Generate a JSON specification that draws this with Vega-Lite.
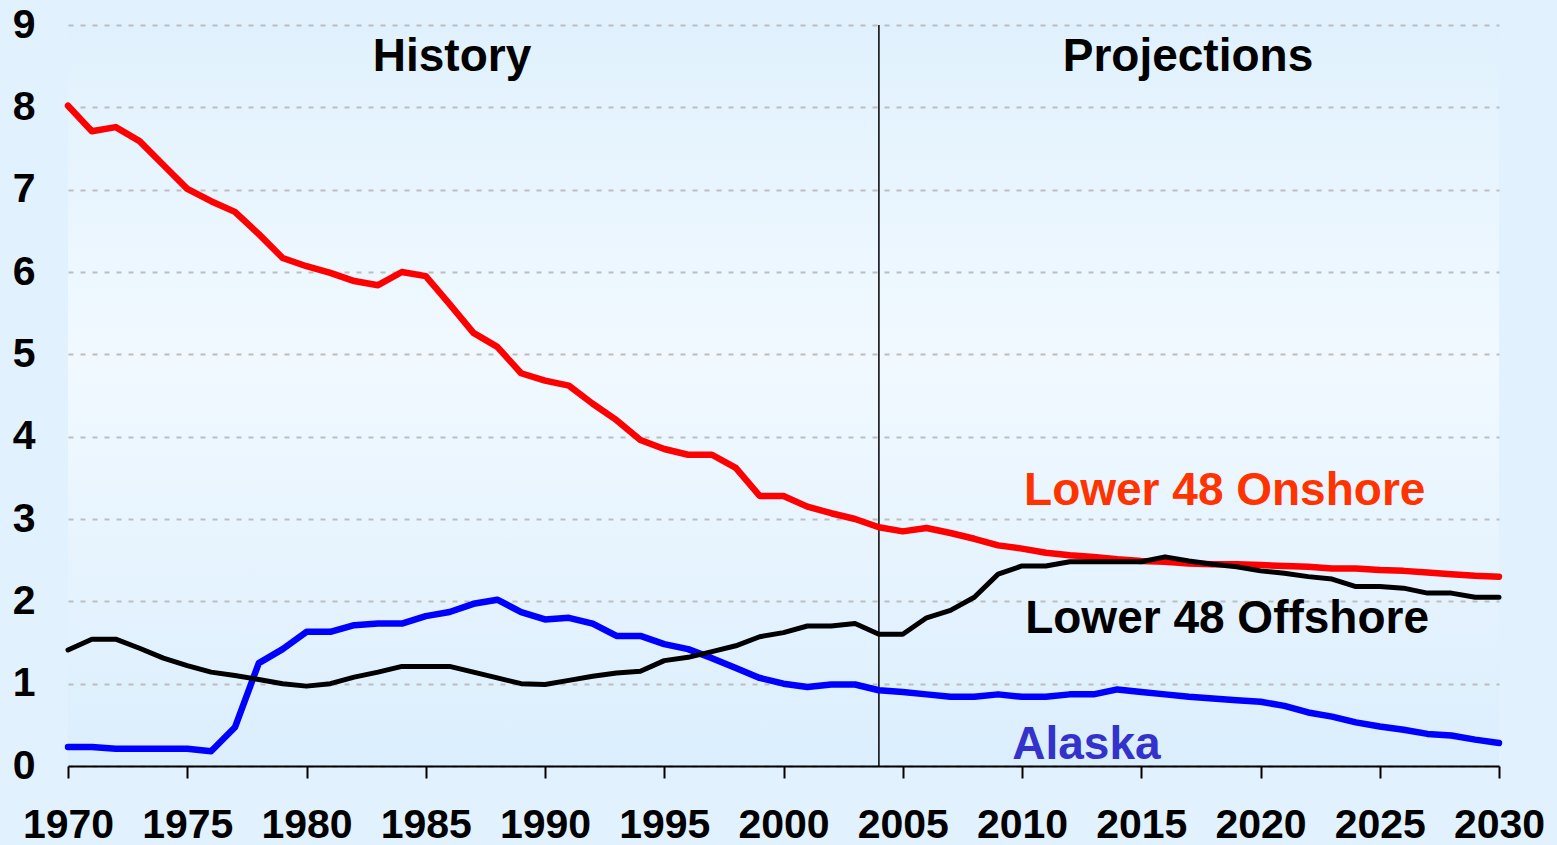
{
  "$schema": "https://vega.github.io/schema/vega-lite/v6.json",
  "width": 1431,
  "height": 741,
  "autosize": {"type": "none"},
  "padding": {"left": 68, "top": 25, "right": 58, "bottom": 79},
  "background": "#e1f1fd",
  "config": {
    "view": {"stroke": null, "fill": {"gradient": "linear", "x1": 0, "y1": 0, "x2": 0, "y2": 1, "stops": [{"offset": 0, "color": "#e0f1fd"}, {"offset": 0.45, "color": "#f1f9ff"}, {"offset": 1, "color": "#dbeefd"}]}},
    "font": "Liberation Sans"
  },
  "datasets": {
    "prod": [
      {"year": 1970, "series": "Lower 48 Onshore", "value": 8.02},
      {"year": 1971, "series": "Lower 48 Onshore", "value": 7.71},
      {"year": 1972, "series": "Lower 48 Onshore", "value": 7.76},
      {"year": 1973, "series": "Lower 48 Onshore", "value": 7.59},
      {"year": 1974, "series": "Lower 48 Onshore", "value": 7.3},
      {"year": 1975, "series": "Lower 48 Onshore", "value": 7.01},
      {"year": 1976, "series": "Lower 48 Onshore", "value": 6.86},
      {"year": 1977, "series": "Lower 48 Onshore", "value": 6.73},
      {"year": 1978, "series": "Lower 48 Onshore", "value": 6.46},
      {"year": 1979, "series": "Lower 48 Onshore", "value": 6.17},
      {"year": 1980, "series": "Lower 48 Onshore", "value": 6.07},
      {"year": 1981, "series": "Lower 48 Onshore", "value": 5.99},
      {"year": 1982, "series": "Lower 48 Onshore", "value": 5.89},
      {"year": 1983, "series": "Lower 48 Onshore", "value": 5.84},
      {"year": 1984, "series": "Lower 48 Onshore", "value": 6.0},
      {"year": 1985, "series": "Lower 48 Onshore", "value": 5.95},
      {"year": 1986, "series": "Lower 48 Onshore", "value": 5.61},
      {"year": 1987, "series": "Lower 48 Onshore", "value": 5.26},
      {"year": 1988, "series": "Lower 48 Onshore", "value": 5.09},
      {"year": 1989, "series": "Lower 48 Onshore", "value": 4.77},
      {"year": 1990, "series": "Lower 48 Onshore", "value": 4.68},
      {"year": 1991, "series": "Lower 48 Onshore", "value": 4.62},
      {"year": 1992, "series": "Lower 48 Onshore", "value": 4.4},
      {"year": 1993, "series": "Lower 48 Onshore", "value": 4.2},
      {"year": 1994, "series": "Lower 48 Onshore", "value": 3.96},
      {"year": 1995, "series": "Lower 48 Onshore", "value": 3.85},
      {"year": 1996, "series": "Lower 48 Onshore", "value": 3.78},
      {"year": 1997, "series": "Lower 48 Onshore", "value": 3.78},
      {"year": 1998, "series": "Lower 48 Onshore", "value": 3.62},
      {"year": 1999, "series": "Lower 48 Onshore", "value": 3.28},
      {"year": 2000, "series": "Lower 48 Onshore", "value": 3.28},
      {"year": 2001, "series": "Lower 48 Onshore", "value": 3.15},
      {"year": 2002, "series": "Lower 48 Onshore", "value": 3.07},
      {"year": 2003, "series": "Lower 48 Onshore", "value": 3.0},
      {"year": 2004, "series": "Lower 48 Onshore", "value": 2.9},
      {"year": 2005, "series": "Lower 48 Onshore", "value": 2.85},
      {"year": 2006, "series": "Lower 48 Onshore", "value": 2.89},
      {"year": 2007, "series": "Lower 48 Onshore", "value": 2.83},
      {"year": 2008, "series": "Lower 48 Onshore", "value": 2.76},
      {"year": 2009, "series": "Lower 48 Onshore", "value": 2.68},
      {"year": 2010, "series": "Lower 48 Onshore", "value": 2.64},
      {"year": 2011, "series": "Lower 48 Onshore", "value": 2.59},
      {"year": 2012, "series": "Lower 48 Onshore", "value": 2.56},
      {"year": 2013, "series": "Lower 48 Onshore", "value": 2.54},
      {"year": 2014, "series": "Lower 48 Onshore", "value": 2.51},
      {"year": 2015, "series": "Lower 48 Onshore", "value": 2.49},
      {"year": 2016, "series": "Lower 48 Onshore", "value": 2.48},
      {"year": 2017, "series": "Lower 48 Onshore", "value": 2.46},
      {"year": 2018, "series": "Lower 48 Onshore", "value": 2.45},
      {"year": 2019, "series": "Lower 48 Onshore", "value": 2.45},
      {"year": 2020, "series": "Lower 48 Onshore", "value": 2.44},
      {"year": 2021, "series": "Lower 48 Onshore", "value": 2.43},
      {"year": 2022, "series": "Lower 48 Onshore", "value": 2.42},
      {"year": 2023, "series": "Lower 48 Onshore", "value": 2.4},
      {"year": 2024, "series": "Lower 48 Onshore", "value": 2.4},
      {"year": 2025, "series": "Lower 48 Onshore", "value": 2.38},
      {"year": 2026, "series": "Lower 48 Onshore", "value": 2.37},
      {"year": 2027, "series": "Lower 48 Onshore", "value": 2.35},
      {"year": 2028, "series": "Lower 48 Onshore", "value": 2.33},
      {"year": 2029, "series": "Lower 48 Onshore", "value": 2.31},
      {"year": 2030, "series": "Lower 48 Onshore", "value": 2.3},

      {"year": 1970, "series": "Lower 48 Offshore", "value": 1.41},
      {"year": 1971, "series": "Lower 48 Offshore", "value": 1.54},
      {"year": 1972, "series": "Lower 48 Offshore", "value": 1.54},
      {"year": 1973, "series": "Lower 48 Offshore", "value": 1.43},
      {"year": 1974, "series": "Lower 48 Offshore", "value": 1.31},
      {"year": 1975, "series": "Lower 48 Offshore", "value": 1.22},
      {"year": 1976, "series": "Lower 48 Offshore", "value": 1.14},
      {"year": 1977, "series": "Lower 48 Offshore", "value": 1.1},
      {"year": 1978, "series": "Lower 48 Offshore", "value": 1.05},
      {"year": 1979, "series": "Lower 48 Offshore", "value": 1.0},
      {"year": 1980, "series": "Lower 48 Offshore", "value": 0.97},
      {"year": 1981, "series": "Lower 48 Offshore", "value": 1.0},
      {"year": 1982, "series": "Lower 48 Offshore", "value": 1.08},
      {"year": 1983, "series": "Lower 48 Offshore", "value": 1.14},
      {"year": 1984, "series": "Lower 48 Offshore", "value": 1.21},
      {"year": 1985, "series": "Lower 48 Offshore", "value": 1.21},
      {"year": 1986, "series": "Lower 48 Offshore", "value": 1.21},
      {"year": 1987, "series": "Lower 48 Offshore", "value": 1.14},
      {"year": 1988, "series": "Lower 48 Offshore", "value": 1.07},
      {"year": 1989, "series": "Lower 48 Offshore", "value": 1.0},
      {"year": 1990, "series": "Lower 48 Offshore", "value": 0.99},
      {"year": 1991, "series": "Lower 48 Offshore", "value": 1.04},
      {"year": 1992, "series": "Lower 48 Offshore", "value": 1.09},
      {"year": 1993, "series": "Lower 48 Offshore", "value": 1.13},
      {"year": 1994, "series": "Lower 48 Offshore", "value": 1.15},
      {"year": 1995, "series": "Lower 48 Offshore", "value": 1.28},
      {"year": 1996, "series": "Lower 48 Offshore", "value": 1.32},
      {"year": 1997, "series": "Lower 48 Offshore", "value": 1.39},
      {"year": 1998, "series": "Lower 48 Offshore", "value": 1.46},
      {"year": 1999, "series": "Lower 48 Offshore", "value": 1.57},
      {"year": 2000, "series": "Lower 48 Offshore", "value": 1.62},
      {"year": 2001, "series": "Lower 48 Offshore", "value": 1.7},
      {"year": 2002, "series": "Lower 48 Offshore", "value": 1.7},
      {"year": 2003, "series": "Lower 48 Offshore", "value": 1.73},
      {"year": 2004, "series": "Lower 48 Offshore", "value": 1.6},
      {"year": 2005, "series": "Lower 48 Offshore", "value": 1.6},
      {"year": 2006, "series": "Lower 48 Offshore", "value": 1.8},
      {"year": 2007, "series": "Lower 48 Offshore", "value": 1.89},
      {"year": 2008, "series": "Lower 48 Offshore", "value": 2.05},
      {"year": 2009, "series": "Lower 48 Offshore", "value": 2.33},
      {"year": 2010, "series": "Lower 48 Offshore", "value": 2.43},
      {"year": 2011, "series": "Lower 48 Offshore", "value": 2.43},
      {"year": 2012, "series": "Lower 48 Offshore", "value": 2.48},
      {"year": 2013, "series": "Lower 48 Offshore", "value": 2.48},
      {"year": 2014, "series": "Lower 48 Offshore", "value": 2.48},
      {"year": 2015, "series": "Lower 48 Offshore", "value": 2.48},
      {"year": 2016, "series": "Lower 48 Offshore", "value": 2.54},
      {"year": 2017, "series": "Lower 48 Offshore", "value": 2.49},
      {"year": 2018, "series": "Lower 48 Offshore", "value": 2.45},
      {"year": 2019, "series": "Lower 48 Offshore", "value": 2.42},
      {"year": 2020, "series": "Lower 48 Offshore", "value": 2.37},
      {"year": 2021, "series": "Lower 48 Offshore", "value": 2.34},
      {"year": 2022, "series": "Lower 48 Offshore", "value": 2.3},
      {"year": 2023, "series": "Lower 48 Offshore", "value": 2.27},
      {"year": 2024, "series": "Lower 48 Offshore", "value": 2.18},
      {"year": 2025, "series": "Lower 48 Offshore", "value": 2.18},
      {"year": 2026, "series": "Lower 48 Offshore", "value": 2.16},
      {"year": 2027, "series": "Lower 48 Offshore", "value": 2.1},
      {"year": 2028, "series": "Lower 48 Offshore", "value": 2.1},
      {"year": 2029, "series": "Lower 48 Offshore", "value": 2.05},
      {"year": 2030, "series": "Lower 48 Offshore", "value": 2.05},

      {"year": 1970, "series": "Alaska", "value": 0.23},
      {"year": 1971, "series": "Alaska", "value": 0.23},
      {"year": 1972, "series": "Alaska", "value": 0.21},
      {"year": 1973, "series": "Alaska", "value": 0.21},
      {"year": 1974, "series": "Alaska", "value": 0.21},
      {"year": 1975, "series": "Alaska", "value": 0.21},
      {"year": 1976, "series": "Alaska", "value": 0.18},
      {"year": 1977, "series": "Alaska", "value": 0.47},
      {"year": 1978, "series": "Alaska", "value": 1.25},
      {"year": 1979, "series": "Alaska", "value": 1.42},
      {"year": 1980, "series": "Alaska", "value": 1.63},
      {"year": 1981, "series": "Alaska", "value": 1.63},
      {"year": 1982, "series": "Alaska", "value": 1.71},
      {"year": 1983, "series": "Alaska", "value": 1.73},
      {"year": 1984, "series": "Alaska", "value": 1.73},
      {"year": 1985, "series": "Alaska", "value": 1.82},
      {"year": 1986, "series": "Alaska", "value": 1.87},
      {"year": 1987, "series": "Alaska", "value": 1.97},
      {"year": 1988, "series": "Alaska", "value": 2.02},
      {"year": 1989, "series": "Alaska", "value": 1.87},
      {"year": 1990, "series": "Alaska", "value": 1.78},
      {"year": 1991, "series": "Alaska", "value": 1.8},
      {"year": 1992, "series": "Alaska", "value": 1.73},
      {"year": 1993, "series": "Alaska", "value": 1.58},
      {"year": 1994, "series": "Alaska", "value": 1.58},
      {"year": 1995, "series": "Alaska", "value": 1.48},
      {"year": 1996, "series": "Alaska", "value": 1.42},
      {"year": 1997, "series": "Alaska", "value": 1.31},
      {"year": 1998, "series": "Alaska", "value": 1.19},
      {"year": 1999, "series": "Alaska", "value": 1.07},
      {"year": 2000, "series": "Alaska", "value": 1.0},
      {"year": 2001, "series": "Alaska", "value": 0.96},
      {"year": 2002, "series": "Alaska", "value": 0.99},
      {"year": 2003, "series": "Alaska", "value": 0.99},
      {"year": 2004, "series": "Alaska", "value": 0.92},
      {"year": 2005, "series": "Alaska", "value": 0.9},
      {"year": 2006, "series": "Alaska", "value": 0.87},
      {"year": 2007, "series": "Alaska", "value": 0.84},
      {"year": 2008, "series": "Alaska", "value": 0.84},
      {"year": 2009, "series": "Alaska", "value": 0.87},
      {"year": 2010, "series": "Alaska", "value": 0.84},
      {"year": 2011, "series": "Alaska", "value": 0.84},
      {"year": 2012, "series": "Alaska", "value": 0.87},
      {"year": 2013, "series": "Alaska", "value": 0.87},
      {"year": 2014, "series": "Alaska", "value": 0.93},
      {"year": 2015, "series": "Alaska", "value": 0.9},
      {"year": 2016, "series": "Alaska", "value": 0.87},
      {"year": 2017, "series": "Alaska", "value": 0.84},
      {"year": 2018, "series": "Alaska", "value": 0.82},
      {"year": 2019, "series": "Alaska", "value": 0.8},
      {"year": 2020, "series": "Alaska", "value": 0.78},
      {"year": 2021, "series": "Alaska", "value": 0.73},
      {"year": 2022, "series": "Alaska", "value": 0.65},
      {"year": 2023, "series": "Alaska", "value": 0.6},
      {"year": 2024, "series": "Alaska", "value": 0.53},
      {"year": 2025, "series": "Alaska", "value": 0.48},
      {"year": 2026, "series": "Alaska", "value": 0.44},
      {"year": 2027, "series": "Alaska", "value": 0.39},
      {"year": 2028, "series": "Alaska", "value": 0.37},
      {"year": 2029, "series": "Alaska", "value": 0.32},
      {"year": 2030, "series": "Alaska", "value": 0.28}
    ]
  },
  "encoding": {
    "x": {
      "field": "year", "type": "quantitative",
      "scale": {"domain": [1970, 2030], "nice": false, "zero": false},
      "axis": {
        "title": null, "values": [1970, 1975, 1980, 1985, 1990, 1995, 2000, 2005, 2010, 2015, 2020, 2025, 2030],
        "format": "d", "grid": false, "domainColor": "#000000", "domainWidth": 2,
        "tickColor": "#000000", "tickWidth": 2, "tickSize": 12,
        "labelFont": "Liberation Sans", "labelFontWeight": "bold", "labelFontSize": 41,
        "labelColor": "#000000", "labelPadding": 27, "labelFlush": false, "labelOverlap": false
      }
    },
    "y": {
      "field": "value", "type": "quantitative",
      "scale": {"domain": [0, 9], "nice": false},
      "axis": {
        "title": null, "values": [0, 1, 2, 3, 4, 5, 6, 7, 8, 9], "format": "d",
        "domain": false, "ticks": false, "tickSize": 0,
        "grid": true, "gridColor": "#bdbdbd", "gridDash": [5, 7], "gridWidth": 2,
        "labelFont": "Liberation Sans", "labelFontWeight": "bold", "labelFontSize": 41,
        "labelColor": "#000000", "labelPadding": 33, "labelFlush": false, "labelOverlap": false
      }
    }
  },
  "layer": [
    {
      "data": {"values": [{"split": 2004}]},
      "mark": {"type": "rule", "color": "#000000", "strokeWidth": 1.5},
      "encoding": {"x": {"field": "split", "type": "quantitative"}, "y": null}
    },
    {
      "data": {"name": "prod"},
      "transform": [{"filter": "datum.series !== 'Lower 48 Offshore'"}],
      "mark": {"type": "line", "strokeJoin": "round", "strokeCap": "round", "strokeWidth": 6.5},
      "encoding": {
        "color": {
          "field": "series", "type": "nominal",
          "scale": {"domain": ["Lower 48 Onshore", "Lower 48 Offshore", "Alaska"], "range": ["#ff0000", "#000000", "#0000ff"]},
          "legend": null
        }
      }
    },
    {
      "data": {"name": "prod"},
      "transform": [{"filter": "datum.series === 'Lower 48 Offshore'"}],
      "mark": {"type": "line", "strokeJoin": "round", "strokeCap": "round", "strokeWidth": 5},
      "encoding": {
        "color": {
          "field": "series", "type": "nominal",
          "scale": {"domain": ["Lower 48 Onshore", "Lower 48 Offshore", "Alaska"], "range": ["#ff0000", "#000000", "#0000ff"]},
          "legend": null
        }
      }
    },
    {
      "data": {"values": [
        {"label": "History", "year": 1986.1, "value": 8.61},
        {"label": "Projections", "year": 2016.96, "value": 8.61},
        {"label": "Lower 48 Offshore", "year": 2018.6, "value": 1.79}
      ]},
      "mark": {"type": "text", "font": "Liberation Sans", "fontWeight": "bold", "fontSize": 46, "align": "center", "baseline": "middle", "color": "#000000"},
      "encoding": {"text": {"field": "label"}}
    },
    {
      "data": {"values": [{"label": "Lower 48 Onshore", "year": 2018.5, "value": 3.34}]},
      "mark": {"type": "text", "font": "Liberation Sans", "fontWeight": "bold", "fontSize": 46, "align": "center", "baseline": "middle", "color": "#ff3300"},
      "encoding": {"text": {"field": "label"}}
    },
    {
      "data": {"values": [{"label": "Alaska", "year": 2012.7, "value": 0.255}]},
      "mark": {"type": "text", "font": "Liberation Sans", "fontWeight": "bold", "fontSize": 46, "align": "center", "baseline": "middle", "color": "#3333cc"},
      "encoding": {"text": {"field": "label"}}
    }
  ]
}
